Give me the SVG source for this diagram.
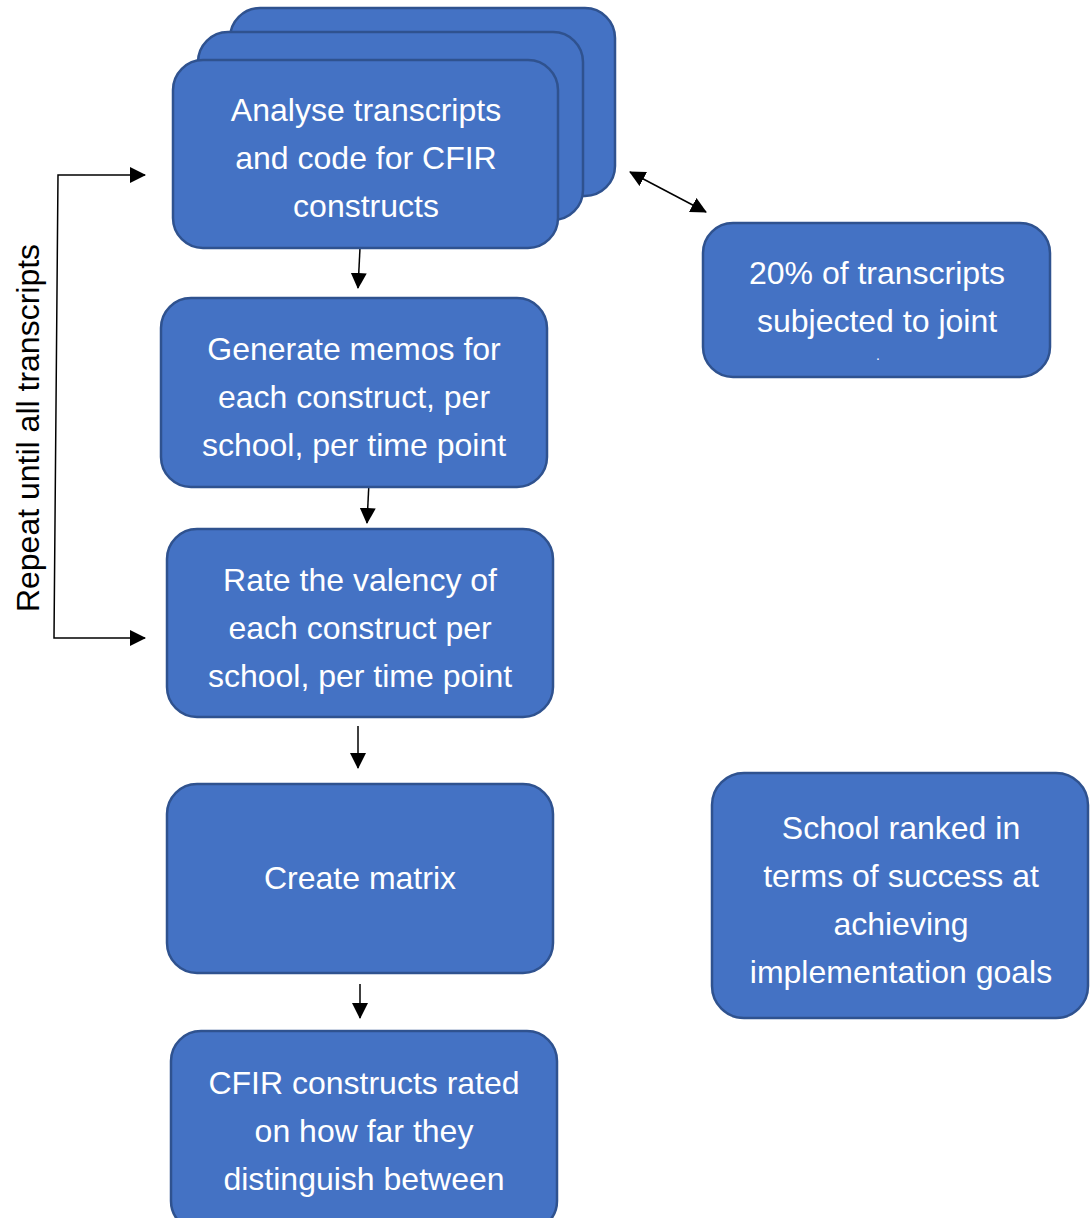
<svg xmlns="http://www.w3.org/2000/svg" width="1090" height="1218" viewBox="0 0 1090 1218">
<style>
.box{fill:#4472C4;stroke:#2F528F;stroke-width:2.5}
.t{font-family:"Liberation Sans",Arial,sans-serif;font-size:32px;fill:#fff;text-anchor:middle}
.c{stroke:#000;stroke-width:1.5;fill:none}
</style>
<defs>
<marker id="ahb" viewBox="0 0 16 16" refX="15" refY="8" markerWidth="16" markerHeight="16" markerUnits="userSpaceOnUse" orient="auto-start-reverse">
<path d="M0,0 L16,8 L0,16 z" fill="#000"/>
</marker>
</defs>
<g id="connectors">
<line class="c" x1="360" y1="248" x2="358" y2="288" marker-end="url(#ahb)"/>
<line class="c" x1="369" y1="482" x2="367" y2="523" marker-end="url(#ahb)"/>
<line class="c" x1="358" y1="726" x2="358" y2="768" marker-end="url(#ahb)"/>
<line class="c" x1="360" y1="984" x2="360" y2="1018" marker-end="url(#ahb)"/>
<line class="c" x1="630" y1="172" x2="706" y2="212" marker-start="url(#ahb)" marker-end="url(#ahb)"/>
<path class="c" d="M145,175 L58,175 L54,638 L145,638" marker-start="url(#ahb)" marker-end="url(#ahb)"/>
</g>
<text x="28" y="428" transform="rotate(-90 28 428)" style="font-family:'Liberation Sans',Arial,sans-serif;font-size:32px;fill:#000;text-anchor:middle;dominant-baseline:central">Repeat until all transcripts</text>
<g id="node-analyse">
<rect class="box" x="230" y="8" width="385" height="188" rx="30"/>
<rect class="box" x="198" y="32" width="385" height="188" rx="30"/>
<rect class="box" x="173" y="60" width="385" height="188" rx="30"/>
<text class="t" x="366" y="121">Analyse transcripts</text>
<text class="t" x="366" y="169">and code for CFIR</text>
<text class="t" x="366" y="217">constructs</text>
</g>
<g id="node-memos">
<rect class="box" x="161" y="298" width="386" height="189" rx="30"/>
<text class="t" x="354" y="360">Generate memos for</text>
<text class="t" x="354" y="408">each construct, per</text>
<text class="t" x="354" y="456">school, per time point</text>
</g>
<g id="node-rate">
<rect class="box" x="167" y="529" width="386" height="188" rx="30"/>
<text class="t" x="360" y="591">Rate the valency of</text>
<text class="t" x="360" y="639">each construct per</text>
<text class="t" x="360" y="687">school, per time point</text>
</g>
<g id="node-matrix">
<rect class="box" x="167" y="784" width="386" height="189" rx="30"/>
<text class="t" x="360" y="889">Create matrix</text>
</g>
<g id="node-cfir">
<rect class="box" x="171" y="1031" width="386" height="200" rx="30"/>
<text class="t" x="364" y="1094">CFIR constructs rated</text>
<text class="t" x="364" y="1142">on how far they</text>
<text class="t" x="364" y="1190">distinguish between</text>
</g>
<g id="node-joint">
<rect class="box" x="703" y="223" width="347" height="154" rx="30"/>
<text class="t" x="877" y="284">20% of transcripts</text>
<text class="t" x="877" y="332">subjected to joint</text>
<text class="t" x="878" y="360" style="font-size:14px">.</text>
</g>
<g id="node-school">
<rect class="box" x="712" y="773" width="376" height="245" rx="32"/>
<text class="t" x="901" y="839">School ranked in</text>
<text class="t" x="901" y="887">terms of success at</text>
<text class="t" x="901" y="935">achieving</text>
<text class="t" x="901" y="983">implementation goals</text>
</g>
</svg>
